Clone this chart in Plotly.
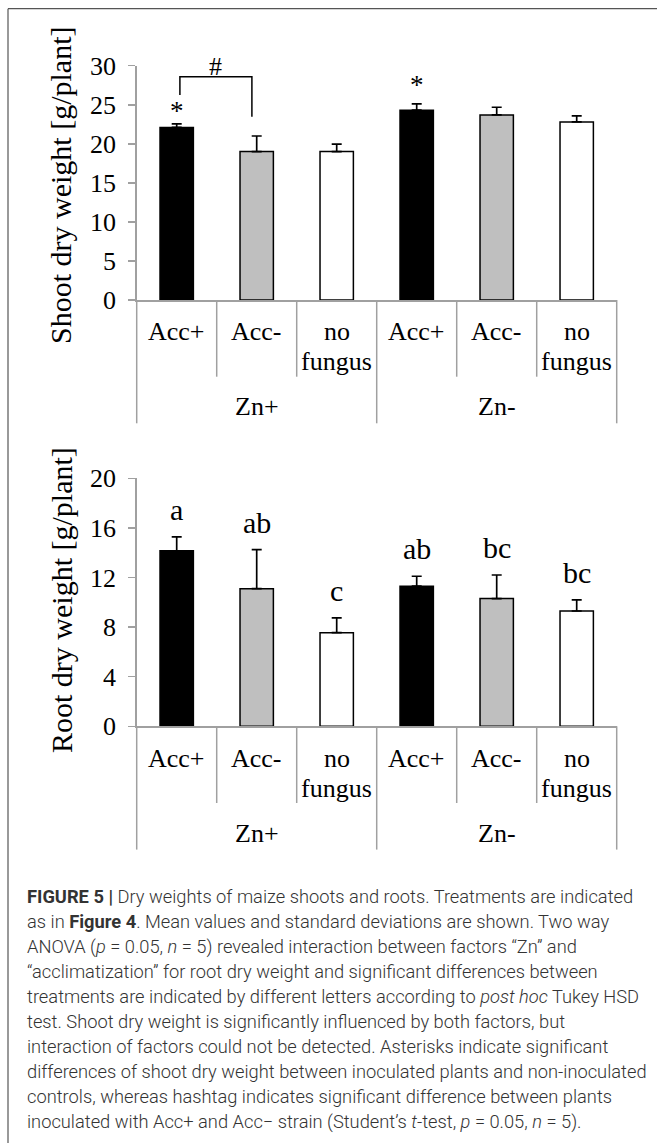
import plotly.graph_objects as go

# ---------------- data ----------------
cat_lines = [["Acc+"], ["Acc-"], ["no", "fungus"], ["Acc+"], ["Acc-"], ["no", "fungus"]]
groups = ["Zn+", "Zn-"]
bar_colors = ["#000000", "#BFBFBF", "#FFFFFF", "#000000", "#BFBFBF", "#FFFFFF"]

shoot_mean = [22.1, 19.0, 19.0, 24.3, 23.7, 22.8]
shoot_sd = [0.45, 2.0, 0.95, 0.8, 0.98, 0.77]
shoot_star_idx = [0, 3]
shoot_star_pad = [1.7, 2.4]

root_mean = [14.15, 11.1, 7.55, 11.3, 10.3, 9.3]
root_sd = [1.13, 3.15, 1.2, 0.8, 1.9, 0.89]
root_letters = ["a", "ab", "c", "ab", "bc", "bc"]

shoot_ticks = [0, 5, 10, 15, 20, 25, 30]
root_ticks = [0, 4, 8, 12, 16, 20]

caption_lines = [
    "<b>FIGURE 5 |</b> Dry weights of maize shoots and roots. Treatments are indicated",
    "as in <b>Figure 4</b>. Mean values and standard deviations are shown. Two way",
    "ANOVA (<i>p</i> = 0.05, <i>n</i> = 5) revealed interaction between factors \u201cZn\u201d and",
    "\u201cacclimatization\u201d for root dry weight and significant differences between",
    "treatments are indicated by different letters according to <i>post hoc</i> Tukey HSD",
    "test. Shoot dry weight is significantly influenced by both factors, but",
    "interaction of factors could not be detected. Asterisks indicate significant",
    "differences of shoot dry weight between inoculated plants and non-inoculated",
    "controls, whereas hashtag indicates significant difference between plants",
    "inoculated with Acc+ and Acc\u2212 strain (Student\u2019s <i>t</i>-test, <i>p</i> = 0.05, <i>n</i> = 5).",
]

# ---------------- layout geometry ----------------
W, H = 657, 1143
SERIF = "Liberation Serif, Times New Roman, serif"
AXC = "#A0A0A0"
xdom = [136.7 / W, 616.7 / W]
top_px = (65.7, 300.0)     # pixel rows of y max / y=0
bot_px = (478.3, 726.3)

def pdom(px):
    return [1 - px[1] / H, 1 - px[0] / H]

x = list(range(len(shoot_mean)))

fig = go.Figure()
for vals, sd, ax in [(shoot_mean, shoot_sd, "y"), (root_mean, root_sd, "y2")]:
    fig.add_trace(go.Bar(
        x=x, y=vals, xaxis="x" if ax == "y" else "x2", yaxis=ax,
        width=0.417,
        marker=dict(color=bar_colors, line=dict(color="black", width=1.5)),
        error_y=dict(type="data", array=sd, arrayminus=[0] * len(sd), symmetric=False,
                     color="black", thickness=1.7, width=5),
        showlegend=False, hoverinfo="skip",
    ))

# bracket for '#'
fig.add_trace(go.Scatter(
    x=[0.04, 0.04, 0.94, 0.94], y=[26.25, 28.6, 28.6, 23.47],
    mode="lines", line=dict(color="black", width=1.5),
    xaxis="x", yaxis="y", showlegend=False, hoverinfo="skip"))

annotations = []
shapes = []

# stars
for i, pad in zip(shoot_star_idx, shoot_star_pad):
    annotations.append(dict(x=i, y=shoot_mean[i] + shoot_sd[i] + pad, xref="x", yref="y",
                            text="*", showarrow=False, font=dict(family=SERIF, size=27, color="black"),
                            xanchor="center", yanchor="middle"))
annotations.append(dict(x=0.48, y=29.96, xref="x", yref="y", text="#", showarrow=False,
                        font=dict(family=SERIF, size=26, color="black"),
                        xanchor="center", yanchor="middle"))
# letters
for i, L in enumerate(root_letters):
    annotations.append(dict(x=i, y=root_mean[i] + root_sd[i] + 2.2, xref="x2", yref="y2",
                            text=L, showarrow=False, font=dict(family=SERIF, size=30, color="black"),
                            xanchor="center", yanchor="middle"))

# category axes (labels and dividers)
for xr, px in [("x", top_px), ("x2", bot_px)]:
    base = px[1]
    for i, lines in enumerate(cat_lines):
        for j, t in enumerate(lines):
            annotations.append(dict(x=i, y=1 - (base + 31.7 + 30 * j) / H, xref=xr, yref="paper",
                                    text=t, showarrow=False, xanchor="center", yanchor="middle",
                                    font=dict(family=SERIF, size=26, color="black")))
    for g, name in enumerate(groups):
        annotations.append(dict(x=g * 3 + 1, y=1 - (base + 106.7) / H, xref=xr, yref="paper",
                                text=name, showarrow=False, xanchor="center", yanchor="middle",
                                font=dict(family=SERIF, size=26, color="black")))
    n = len(cat_lines)
    for k in range(n + 1):
        length = 123.3 if k % 3 == 0 else 76.7
        shapes.append(dict(type="line", xref=xr + " domain", yref="paper",
                           x0=k / n, x1=k / n, y0=1 - base / H, y1=1 - (base + length) / H,
                           line=dict(color=AXC, width=1.5)))

# y titles
annotations.append(dict(x=61 / W, y=1 - 186 / H, xref="paper", yref="paper",
                        text="Shoot dry weight [g/plant]", textangle=-90, showarrow=False,
                        xanchor="center", yanchor="middle",
                        font=dict(family=SERIF, size=30, color="black")))
annotations.append(dict(x=61 / W, y=1 - 600 / H, xref="paper", yref="paper",
                        text="Root dry weight [g/plant]", textangle=-90, showarrow=False,
                        xanchor="center", yanchor="middle",
                        font=dict(family=SERIF, size=30, color="black")))

# caption
for i, line in enumerate(caption_lines):
    annotations.append(dict(x=25 / W, y=1 - (896.7 + 25 * i) / H, xref="paper", yref="paper",
                            text=line, showarrow=False, xanchor="left", yanchor="middle",
                            font=dict(family="Roboto, Liberation Sans, sans-serif", size=18.3,
                                      color="#333333", weight=300)))

# outer frame (top and left edges)
FRAME = "#555555"
shapes.append(dict(type="line", xref="paper", yref="paper", x0=8 / W, x1=1,
                   y0=1 - 8.7 / H, y1=1 - 8.7 / H, line=dict(color=FRAME, width=1.2)))
shapes.append(dict(type="line", xref="paper", yref="paper", x0=8 / W, x1=8 / W,
                   y0=0, y1=1 - 8.7 / H, line=dict(color=FRAME, width=1.2)))

yax_common = dict(showline=True, linecolor=AXC, linewidth=1.5, ticks="outside", ticklen=7,
                  tickcolor=AXC, tickwidth=1.5, showgrid=False, zeroline=False, automargin=False,
                  ticklabelstandoff=7,
                  tickfont=dict(family=SERIF, size=26, color="black"))
xax_common = dict(showline=True, linecolor=AXC, linewidth=1.5, showticklabels=False,
                  ticks="", showgrid=False, zeroline=False, range=[-0.5, 5.5], domain=xdom,
                  automargin=False)

fig.update_layout(
    template="none",
    width=W, height=H, autosize=False,
    margin=dict(l=0, r=0, t=0, b=0, pad=0),
    paper_bgcolor="white", plot_bgcolor="white",
    xaxis=dict(**xax_common, anchor="y"),
    yaxis=dict(**yax_common, range=[0, 30], tickvals=shoot_ticks, domain=pdom(top_px), anchor="x"),
    xaxis2=dict(**xax_common, anchor="y2"),
    yaxis2=dict(**yax_common, range=[0, 20], tickvals=root_ticks, domain=pdom(bot_px), anchor="x2"),
    annotations=annotations, shapes=shapes,
    bargap=0,
)

fig.write_html("out.html", config={"displayModeBar": False, "staticPlot": True},
               post_script="document.body.style.margin='0';")
